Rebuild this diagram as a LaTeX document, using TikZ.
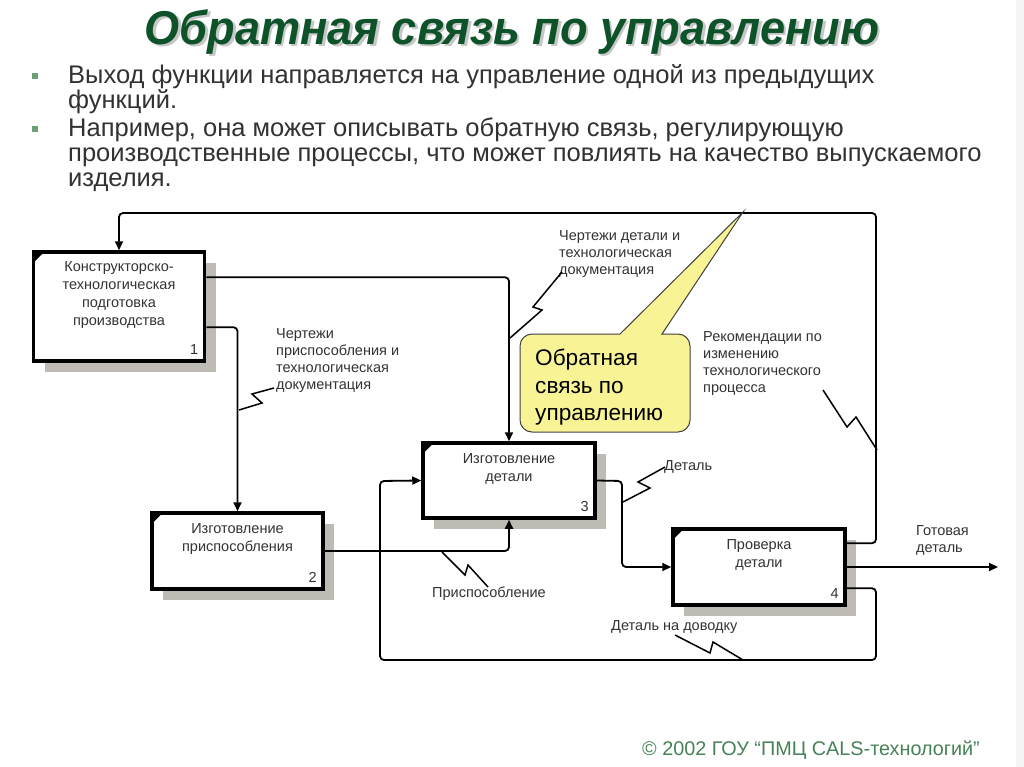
\documentclass[tikz,border=0pt]{standalone}
\usepackage{fontspec}
\setmainfont{Liberation Sans}
\usetikzlibrary{arrows.meta,calc,shadows}
\definecolor{titlegreen}{RGB}{14,82,42}
\definecolor{bulletgreen}{RGB}{110,160,120}
\definecolor{footgreen}{RGB}{70,130,85}
\definecolor{shadowc}{RGB}{190,187,180}
\definecolor{calloutfill}{RGB}{248,244,150}
\definecolor{bodytext}{RGB}{50,50,50}
\begin{document}
\begin{tikzpicture}[x=1pt,y=-1pt,
  box/.style={draw, line width=3.5pt, fill=white, inner sep=0pt,
    drop shadow={shadow xshift=11pt, shadow yshift=-11pt, fill=shadowc, opacity=1, shadow scale=1}},
  boxtxt/.style={font=\fontsize{14.5}{18}\selectfont, align=center, inner sep=0pt, anchor=north, text=black!80},
  num/.style={font=\fontsize{14.5}{16}\selectfont, inner sep=0pt, text=black!80},
  lbl/.style={font=\fontsize{14.5}{17}\selectfont, align=left, inner sep=0pt, anchor=north west, text=black!80},
  conn/.style={line width=1.8pt, rounded corners=4pt},
  arr/.style={-{Triangle[length=9pt,width=8pt]}},
  zig/.style={line width=1.5pt},
  titlefont/.style={font=\fontsize{47.5}{52}\selectfont\bfseries\itshape, xscale=0.95, anchor=base},
]
\useasboundingbox (0,0) rectangle (1024,767);
\fill[white] (0,0) rectangle (1024,767);
\fill[black!4] (1016,0) rectangle (1024,767);

% title
\node[titlefont, text=black!22] (titleshadow) at (514.5,47) {Обратная связь по управлению};
\node[titlefont, text=titlegreen] (title) at (512,44.5) {Обратная связь по управлению};

% bullets
\fill[bulletgreen] (32,73) rectangle (38,79);
\fill[bulletgreen] (32,126) rectangle (38,132);
\node[font=\fontsize{25.5}{23.5}\selectfont, align=left, anchor=north west, inner sep=0pt, text=bodytext] (bul1) at (68,64) {Выход функции направляется на управление одной из предыдущих\\функций.};
\node[font=\fontsize{25.5}{25}\selectfont, align=left, anchor=north west, inner sep=0pt, text=bodytext] (bul2) at (68,117.5) {Например, она может описывать обратную связь, регулирующую\\производственные процессы, что может повлиять на качество выпускаемого\\изделия.};

% boxes
\node[box, minimum width=171pt, minimum height=109pt] (b1) at (119,306.5) {};
\node[box, minimum width=171pt, minimum height=76pt] (b2) at (237.5,551) {};
\node[box, minimum width=172pt, minimum height=75pt] (b3) at (509,480.5) {};
\node[box, minimum width=172pt, minimum height=76pt] (b4) at (759,567) {};

\foreach \b in {b1,b2,b3,b4}{
  \fill ($(\b.north west)+(3,3)$) -- ++(8,0) -- ++(-8,8) -- cycle;
}

\node[boxtxt] (b1t) at ($(b1.north)+(0,11)$) {Конструкторско-\\технологическая\\подготовка\\производства};
\node[boxtxt] (b2t) at ($(b2.north)+(0,12)$) {Изготовление\\приспособления};
\node[boxtxt] (b3t) at ($(b3.north)+(0,12)$) {Изготовление\\детали};
\node[boxtxt] (b4t) at ($(b4.north)+(0,12)$) {Проверка\\детали};

\node[num] (n1) at ($(b1.south east)+(-12,-13)$) {1};
\node[num] (n2) at ($(b2.south east)+(-12,-13)$) {2};
\node[num] (n3) at ($(b3.south east)+(-12,-13)$) {3};
\node[num] (n4) at ($(b4.south east)+(-12,-13)$) {4};

% ports and bends
\coordinate (b1oA) at ($(b1.north east)+(0,27)$);
\coordinate (b1oB) at ($(b1.north east)+(0,77)$);
\coordinate (b4oA) at ($(b4.north east)+(0,16)$);
\coordinate (b4oB) at ($(b4.north east)+(0,61)$);
\coordinate (fbTop) at (876,213);
\coordinate (fbBot) at (876,660);
\coordinate (fbLeft) at (380,481);
\coordinate (d3) at (622,481);
\coordinate (outEnd) at (998,567);

% connectors
\draw[conn, arr] (b1oA) -| (b3.north);
\draw[conn, arr] (b1oB) -| (b2.north);
\draw[conn, arr] (b2.east) -| (b3.south);
\draw[conn, arr] (b3.east) -- (d3) |- (b4.west);
\draw[conn, arr] (b4.east) -- (outEnd);
\draw[conn, arr] (b4oA) -| (fbTop) -| (b1.north);
\draw[conn, arr] (b4oB) -| (fbBot) -| (fbLeft) -- (b3.west);

% callout
\draw[fill=calloutfill, draw=black!75, line width=1pt]
  (662,334) [rounded corners=12pt] -- (690,334) -- (690,432) -- (520,432) -- (520,334) [sharp corners] -- (620,334) -- (743,212) -- (662,334) -- cycle;
\node[font=\fontsize{22.6}{27.5}\selectfont, align=left, anchor=north west, inner sep=0pt] (cb) at (535,349) {Обратная\\связь по\\управлению};

% labels
\node[lbl] (l1) at (559,230) {Чертежи детали и\\технологическая\\документация};
\node[lbl] (l2) at (276,328) {Чертежи\\приспособления и\\технологическая\\документация};
\node[lbl] (l3) at (703,331) {Рекомендации по\\изменению\\технологического\\процесса};
\node[lbl] (l4) at (664,460) {Деталь};
\node[lbl] (l5) at (432,587) {Приспособление};
\node[lbl] (l6) at (611,620) {Деталь на доводку};
\node[lbl] (l7) at (916,525) {Готовая\\деталь};

% squiggles
\draw[zig] (562,272) -- (533,307) -- (542,310) -- (510,338);
\draw[zig] (274,388) -- (252,394) -- (262,403) -- (239,410);
\draw[zig] (823,390) -- (847,427) -- (856,417) -- (877,450);
\draw[zig] (665,467) -- (638,482) -- (650,488) -- (623,502);
\draw[zig] (442,552) -- (465,575) -- (468,565) -- (488,587);
\draw[zig] (675,635) -- (710,653) -- (713,642) -- (743,660);

% footer
\node[font=\fontsize{19.8}{22}\selectfont, text=footgreen, anchor=base east, inner sep=0pt] (foot) at (980,755) {© 2002 ГОУ “ПМЦ CALS-технологий”};
\end{tikzpicture}
\end{document}
